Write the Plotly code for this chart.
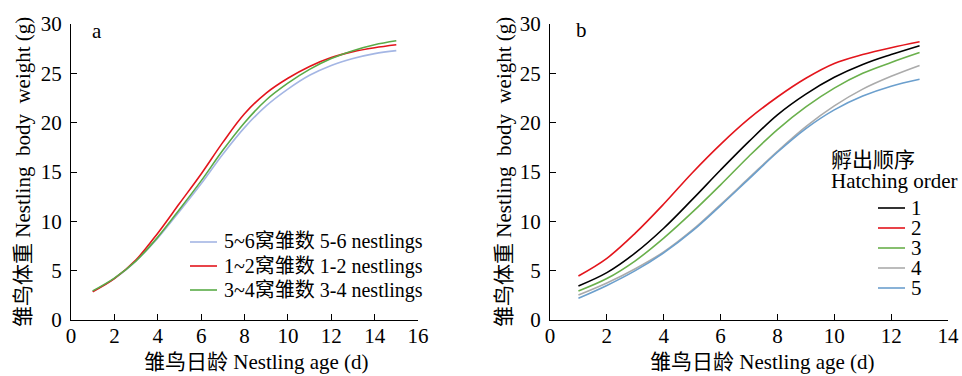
import plotly.graph_objects as go

FONT = "Liberation Serif, Noto Sans CJK SC, serif"

# ---------------- Panel a data ----------------
days_a = [1, 2, 3, 4, 5, 6, 7, 8, 9, 10, 11, 12, 13, 14, 15]
a_names = ["5~6窝雏数 5-6 nestlings", "1~2窝雏数 1-2 nestlings", "3~4窝雏数 3-4 nestlings"]
a_colors = ["#a4b6e4", "#e3151c", "#5aab47"]
a_56 = [2.9, 4.2, 6.0, 8.3, 11.0, 13.8, 16.8, 19.5, 21.7, 23.4, 24.8, 25.8, 26.5, 27.0, 27.3]
a_12 = [2.87, 4.2, 6.1, 8.8, 11.8, 14.8, 18.0, 20.9, 23.0, 24.5, 25.7, 26.6, 27.2, 27.6, 27.9]
a_34 = [2.95, 4.25, 6.0, 8.4, 11.2, 14.1, 17.2, 20.0, 22.3, 24.0, 25.4, 26.5, 27.3, 27.9, 28.3]
a_series = [a_56, a_12, a_34]

# ---------------- Panel b data ----------------
days_b = [1, 2, 3, 4, 5, 6, 7, 8, 9, 10, 11, 12, 13]
b_names = ["1", "2", "3", "4", "5"]
b_colors = ["#000000", "#e3151c", "#6ab04c", "#ababab", "#6b9fcd"]
b_1 = [3.45, 4.8, 6.8, 9.3, 12.2, 15.2, 18.1, 20.8, 22.9, 24.6, 25.9, 26.9, 27.8]
b_2 = [4.46, 6.25, 8.8, 11.75, 14.9, 17.8, 20.4, 22.6, 24.5, 26.0, 26.9, 27.6, 28.2]
b_3 = [2.94, 4.2, 6.0, 8.3, 10.9, 13.7, 16.6, 19.3, 21.6, 23.5, 25.0, 26.1, 27.1]
b_4 = [2.53, 3.75, 5.2, 6.9, 9.1, 11.7, 14.4, 17.1, 19.6, 21.7, 23.4, 24.7, 25.8]
b_5 = [2.2, 3.5, 5.0, 6.8, 9.0, 11.6, 14.3, 17.0, 19.4, 21.3, 22.7, 23.7, 24.4]
b_series = [b_1, b_2, b_3, b_4, b_5]

x_ticks_a = [0, 2, 4, 6, 8, 10, 12, 14, 16]
x_ticks_b = [0, 2, 4, 6, 8, 10, 12, 14]
y_ticks = [0, 5, 10, 15, 20, 25, 30]

xtitle = "雏鸟日龄 Nestling age (d)"
ytitle = "雏鸟体重 Nestling\u00a0\u00a0body\u00a0\u00a0weight (g)"
b_legend_title = ["孵出顺序", "Hatching order"]

W, H = 962, 376
def px(x):
    return x / W
def py(y):
    return 1 - y / H

fig = go.Figure()

for name, col, ys in zip(a_names, a_colors, a_series):
    fig.add_trace(go.Scatter(x=days_a, y=ys, mode="lines", name=name,
                             line=dict(color=col, width=1.6, shape="spline", smoothing=1.0),
                             xaxis="x", yaxis="y", showlegend=False))
for name, col, ys in zip(b_names, b_colors, b_series):
    fig.add_trace(go.Scatter(x=days_b, y=ys, mode="lines", name=name,
                             line=dict(color=col, width=1.6, shape="spline", smoothing=1.0),
                             xaxis="x2", yaxis="y2", showlegend=False))

ax_common = dict(showline=True, linecolor="black", linewidth=1.3, ticks="inside",
                 ticklen=6, tickwidth=1.3, tickcolor="black", showgrid=False,
                 zeroline=False, tickfont=dict(family=FONT, size=21, color="black"),
                 automargin=False)

fig.update_layout(
    width=W, height=H,
    margin=dict(l=0, r=0, t=0, b=0, autoexpand=False),
    paper_bgcolor="white", plot_bgcolor="white",
    font=dict(family=FONT, color="black"),
    xaxis=dict(domain=[px(71), px(418)], range=[0, 16], tickvals=x_ticks_a,
               anchor="y", ticklabelstandoff=-3, **ax_common),
    yaxis=dict(domain=[py(320), py(24)], range=[0, 30], tickvals=y_ticks,
               anchor="x", ticklabelstandoff=4, **ax_common),
    xaxis2=dict(domain=[px(550), px(948)], range=[0, 14], tickvals=x_ticks_b,
                anchor="y2", ticklabelstandoff=-3, **ax_common),
    yaxis2=dict(domain=[py(320), py(24)], range=[0, 30], tickvals=y_ticks,
                anchor="x2", ticklabelstandoff=4, **ax_common),
)

ann = []
shapes = []
# axis titles
for cx in (256, 762):
    ann.append(dict(x=px(cx), y=py(362), xref="paper", yref="paper", text=xtitle,
                    showarrow=False, font=dict(size=21, family=FONT), xanchor="center", yanchor="middle"))
for cx in (23, 504):
    ann.append(dict(x=px(cx), y=py(172), xref="paper", yref="paper", text=ytitle, textangle=-90,
                    showarrow=False, font=dict(size=21, family=FONT), xanchor="center", yanchor="middle"))
# panel labels
ann.append(dict(x=px(97), y=py(31), xref="paper", yref="paper", text="a", showarrow=False,
                font=dict(size=21, family=FONT), xanchor="center", yanchor="middle"))
ann.append(dict(x=px(581), y=py(30), xref="paper", yref="paper", text="b", showarrow=False,
                font=dict(size=21, family=FONT), xanchor="center", yanchor="middle"))

# legend a
for i, (name, col) in enumerate(zip(a_names, a_colors)):
    yc = 242 + 24 * i
    shapes.append(dict(type="line", xref="paper", yref="paper", x0=px(190), x1=px(217),
                       y0=py(yc), y1=py(yc), line=dict(color=col, width=1.6)))
    ann.append(dict(x=px(222), y=py(yc), xref="paper", yref="paper", text=name, showarrow=False,
                    font=dict(size=20, family=FONT), xanchor="left", yanchor="middle"))

# legend b
ann.append(dict(x=px(829), y=py(160), xref="paper", yref="paper", text=b_legend_title[0], showarrow=False,
                font=dict(size=21, family=FONT), xanchor="left", yanchor="middle"))
ann.append(dict(x=px(829), y=py(181), xref="paper", yref="paper", text=b_legend_title[1], showarrow=False,
                font=dict(size=21, family=FONT), xanchor="left", yanchor="middle"))
for i, (name, col) in enumerate(zip(b_names, b_colors)):
    yc = 208 + 20 * i
    shapes.append(dict(type="line", xref="paper", yref="paper", x0=px(878), x1=px(905),
                       y0=py(yc), y1=py(yc), line=dict(color=col, width=1.6)))
    ann.append(dict(x=px(910), y=py(yc), xref="paper", yref="paper", text=name, showarrow=False,
                    font=dict(size=21, family=FONT), xanchor="left", yanchor="middle", borderpad=0))

fig.update_layout(annotations=ann, shapes=shapes)
# remove the default 8px page margin so the 962x376 figure fills the window exactly
fig.write_html("out.html", config={"displayModeBar": False},
               post_script="document.body.style.margin='0';document.body.style.overflow='hidden';")
